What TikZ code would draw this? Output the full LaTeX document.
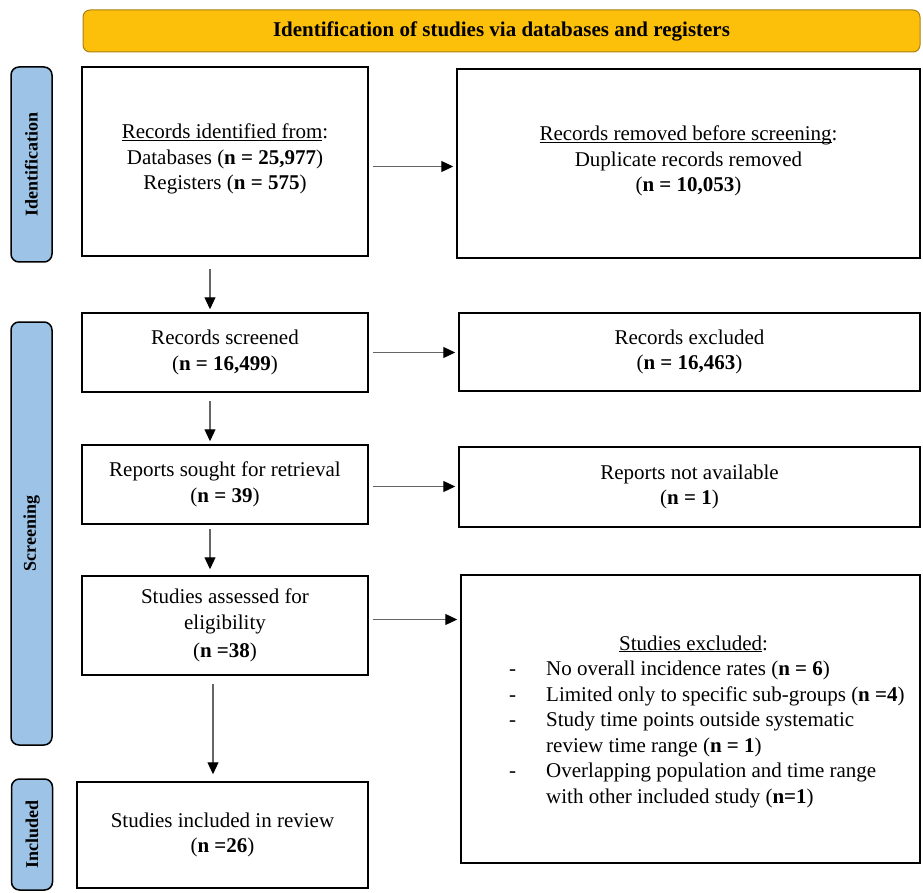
\documentclass[tikz,border=0pt]{standalone}
\usepackage{fontspec}
\setmainfont{Liberation Serif}
\usetikzlibrary{arrows.meta,positioning,calc}
\definecolor{hdrgold}{RGB}{253,192,10}
\definecolor{hdrline}{RGB}{170,128,20}
\definecolor{phaseblue}{RGB}{157,195,230}
\newcommand{\hdline}[1]{\underline{\smash{#1}\vphantom{x}}}
\tikzstyle{flowbox} = [draw=black, line width=1.5pt, align=center, inner sep=0pt, font=\fontsize{21}{25.5}\selectfont]
\tikzstyle{phase} = [draw=black, line width=1.5pt, fill=phaseblue, rounded corners=8pt, minimum width=41pt, inner sep=0pt, font=\bfseries\fontsize{18}{20}\selectfont]
\tikzstyle{arrow} = [-{Triangle[length=12pt,width=11pt,color=black]}, black!60, line width=1.2pt, shorten <=4pt, shorten >=3pt]

\begin{document}
\begin{tikzpicture}[x=1pt,y=-1pt]
\useasboundingbox (0,0) rectangle (923,893);
% header
\node[draw=hdrline, line width=1pt, fill=hdrgold, rounded corners=7pt, minimum width=837pt, minimum height=42pt, font=\bfseries\fontsize{21}{24}\selectfont] (head) at (501.5,31) {Identification of studies via databases and registers};
% phases
\node[phase, minimum height=195pt] (idphase) at (31.5,164.5) {\rotatebox{90}{Identification}};
\node[phase, minimum height=423pt] (scphase) at (31.5,533.5) {\rotatebox{90}{Screening}};
\node[phase, minimum height=111pt] (inphase) at (32,834.5) {\rotatebox{90}{Included}};
% left column
\node[flowbox, minimum width=286pt, minimum height=189pt] (ident) at (225,161.5) {\hdline{Records identified from}:\\ Databases (\textbf{n = 25,977})\\ Registers (\textbf{n = 575})};
\node[flowbox, minimum width=286pt, minimum height=79pt] (screened) at (225,352.5) {Records screened\\ (\textbf{n = 16,499})};
\node[flowbox, minimum width=286pt, minimum height=79pt] (sought) at (225,484.5) {Reports sought for retrieval\\ (\textbf{n = 39})};
\node[flowbox, minimum width=286pt, minimum height=99pt] (assessed) at (225,625.5) {Studies assessed for\\ eligibility\\[3pt] (\textbf{n =38})};
\node[flowbox, minimum width=291pt, minimum height=106pt] (included) at (222.5,835) {Studies included in review\\ (\textbf{n =26})};
% right column
\node[flowbox, minimum width=463pt, minimum height=189pt] (removed) at (688.5,163.5) {\hdline{Records removed before screening}:\\ Duplicate records removed\\ (\textbf{n = 10,053})};
\node[flowbox, minimum width=461pt, minimum height=78pt] (recexcl) at (689.5,352) {Records excluded\\ (\textbf{n = 16,463})};
\node[flowbox, minimum width=461pt, minimum height=80pt] (notavail) at (689.5,487) {Reports not available\\ (\textbf{n = 1})};
\node[flowbox, minimum width=459pt, minimum height=288pt] (studexcl) at (690.5,719) {};
\node[anchor=north west, inner sep=0pt, font=\fontsize{21}{25.5}\selectfont] (exclist) at (509,632) {%
\begin{tabular}{@{}p{37pt}@{}l@{}}
\multicolumn{2}{@{}l@{}}{\hspace{110pt}\hdline{Studies excluded}:}\\
- & No overall incidence rates (\textbf{n = 6})\\
- & Limited only to specific sub-groups (\textbf{n =4})\\
- & Study time points outside systematic\\
  & review time range (\textbf{n = 1})\\
- & Overlapping population and time range\\
  & with other included study (\textbf{n=1})
\end{tabular}};
% arrows
\draw[arrow] ([yshift=-5pt]ident.east) -- ([yshift=-5pt]ident.east -| removed.west);
\draw[arrow] (screened.east) -- (screened.east -| recexcl.west);
\draw[arrow] ([yshift=-2pt]sought.east) -- ([yshift=-2pt]sought.east -| notavail.west);
\draw[arrow] ([yshift=6pt]assessed.east) -- ([yshift=6pt]assessed.east -| studexcl.west);
\draw[arrow, shorten <=12pt] ([xshift=-15pt]ident.south) -- ([xshift=-15pt]screened.north);
\draw[arrow, shorten <=8pt] ([xshift=-15pt]screened.south) -- ([xshift=-15pt]sought.north);
\draw[arrow, shorten >=6pt] ([xshift=-15pt]sought.south) -- ([xshift=-15pt]assessed.north);
\draw[arrow, shorten <=8pt, shorten >=7pt] ([xshift=-12pt]assessed.south) -- ([xshift=-12pt]assessed.south |- included.north);
\end{tikzpicture}
\end{document}
